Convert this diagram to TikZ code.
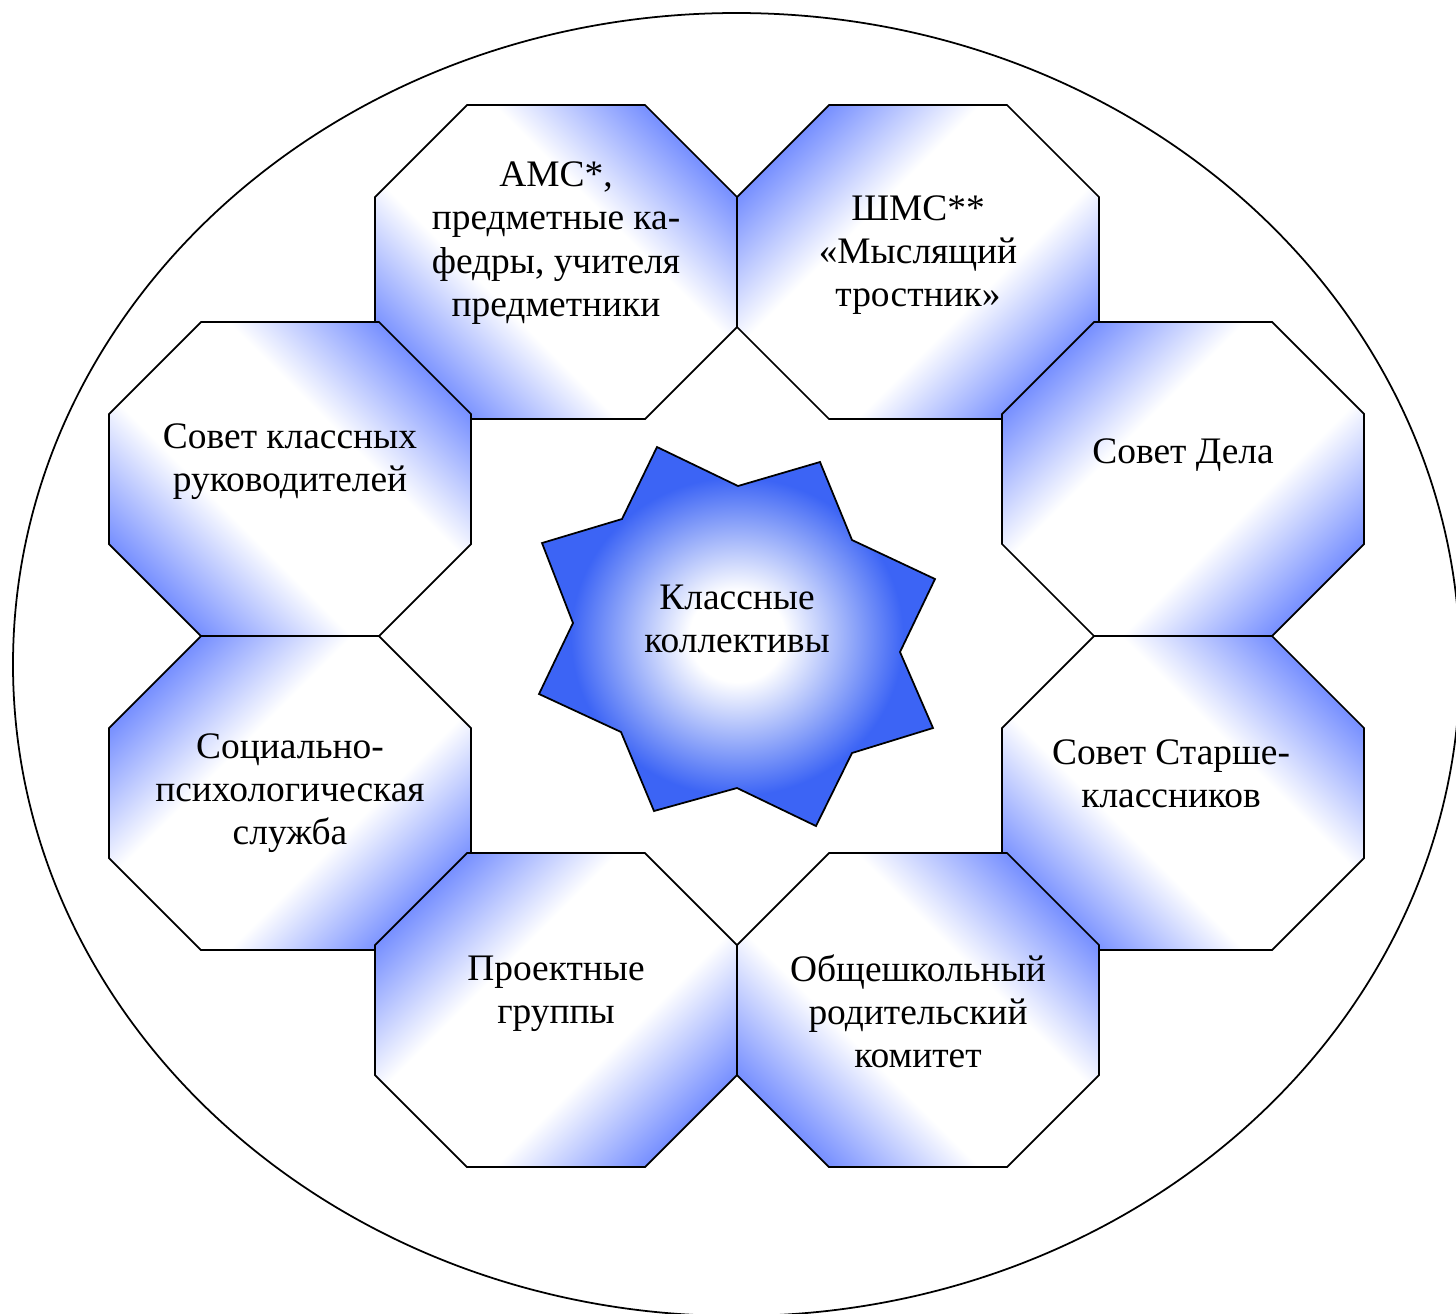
\documentclass[tikz,border=0pt]{standalone}
\usepackage{fontspec}
\setmainfont{Liberation Serif}
\usetikzlibrary{calc}

\definecolor{octblue}{RGB}{100,128,255}
\definecolor{starblue}{RGB}{60,100,245}

\pgfdeclareverticalshading{octshade}{100bp}{color(0bp)=(octblue); color(22bp)=(octblue);
  color(40bp)=(white); color(60bp)=(white); color(78bp)=(octblue); color(100bp)=(octblue)}
\pgfdeclareradialshading{starshade}{\pgfpoint{0bp}{0bp}}{color(0bp)=(white); color(6bp)=(white);
  color(21bp)=(starblue); color(50bp)=(starblue)}

\begin{document}
\begin{tikzpicture}[x=0.02cm,y=-0.02cm,
    octa/.style={draw,line width=1pt,shading=octshade},
    lbl/.style={align=center,inner sep=0pt,font=\fontsize{21.3pt}{24.6pt}\selectfont}]
  \useasboundingbox (0,0) rectangle (1456,1313);
  \draw[line width=1pt] (736.5,664.5) ellipse (723.5 and 651.5);
  % eight octagons: top-left corner and gradient angle
  \foreach \x/\y/\a in {375/105/-45, 737/105/45, 109/322/-45, 1002/322/45,
                        109/636/45, 1002/636/-45, 375/853/45, 737/853/-45}
    \draw[octa,shading angle=\a] (\x+92,\y) -- (\x+270,\y) -- (\x+362,\y+92) -- (\x+362,\y+222)
      -- (\x+270,\y+314) -- (\x+92,\y+314) -- (\x,\y+222) -- (\x,\y+92) -- cycle;
  % star in the middle
  \draw[line width=1pt,shading=starshade]
    (657,447) -- (738,486) -- (820,462) -- (852,540) -- (935,579) -- (900,652)
    -- (933,728) -- (852,753) -- (816,826) -- (737,788) -- (654,811) -- (621,732)
    -- (539,694) -- (573,623) -- (542,543) -- (622,519) -- cycle;
  \node[lbl] (ams) at (556,243) {АМС*,\\предметные ка-\\федры, учителя\\предметники};
  \node[lbl] (shms) at (918,255) {ШМС**\\«Мыслящий\\тростник»};
  \node[lbl] (klruk) at (290,462) {Совет классных\\руководителей};
  \node[lbl] (dela) at (1183,455) {Совет Дела};
  \node[lbl] (soc) at (290,793) {Социально-\\психологическая\\служба};
  \node[lbl] (starsh) at (1171,774) {Совет Старше-\\классников};
  \node[lbl] (proekt) at (556,994) {Проектные\\группы};
  \node[lbl] (roditel) at (918,1011) {Общешкольный\\родительский\\комитет};
  \node[lbl] (klass) at (737,619) {Классные\\коллективы};
\end{tikzpicture}
\end{document}
